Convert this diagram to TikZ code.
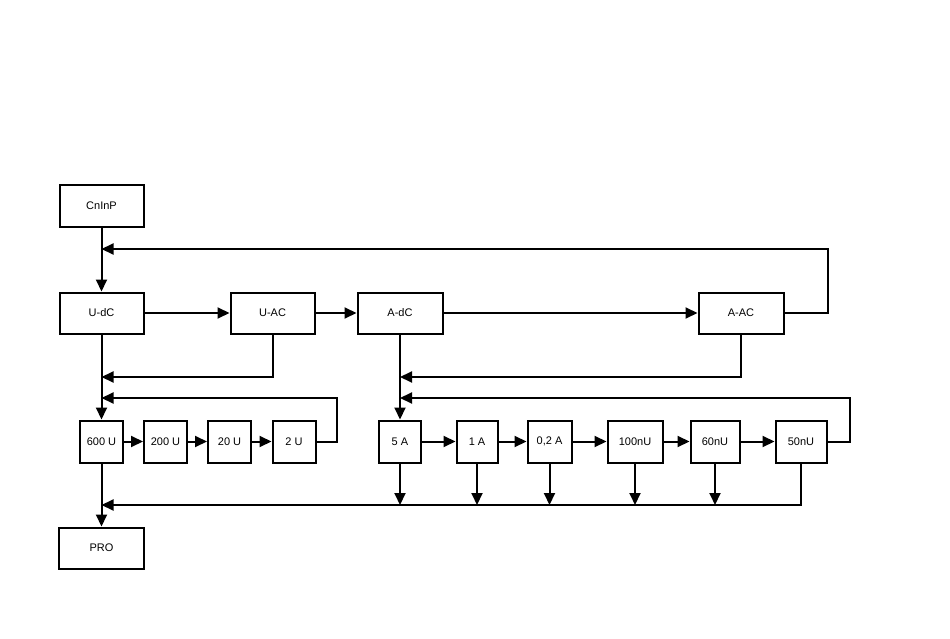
\documentclass[tikz,border=0pt]{standalone}
\usepackage{fontspec}
\setmainfont{Liberation Sans}
\usetikzlibrary{arrows.meta}
\begin{document}
\begin{tikzpicture}[x=1pt,y=-1pt, line width=2pt,
  box/.style={draw, line width=2pt, inner sep=0pt, font=\fontsize{11}{13}\selectfont, minimum height=41pt},
  arr/.style={-{Triangle[length=12pt,width=11pt]}}]
\useasboundingbox (0,0) rectangle (950,639);
% top row
\node[box, minimum width=84pt] (cninp) at (101.5,206) {CnInP};
\node[box, minimum width=84pt] (udc) at (101.5,313) {U-dC};
\node[box, minimum width=84pt] (uac) at (272.5,313) {U-AC};
\node[box, minimum width=85pt] (adc) at (400,313) {A-dC};
\node[box, minimum width=85pt] (aac) at (741,313) {A-AC};
% voltage ranges
\node[box, minimum width=43pt, minimum height=42pt] (v600) at (101.5,441.5) {600 U};
\node[box, minimum width=43pt, minimum height=42pt] (v200) at (165.5,441.5) {200 U};
\node[box, minimum width=43pt, minimum height=42pt] (v20) at (229.5,441.5) {20 U};
\node[box, minimum width=43pt, minimum height=42pt] (v2) at (294,441.5) {2 U};
% current ranges
\node[box, minimum width=42pt, minimum height=42pt] (a5) at (400,441.5) {5 A};
\node[box, minimum width=41pt, minimum height=42pt] (a1) at (477,441.5) {1 A};
\node[box, minimum width=44pt, minimum height=42pt] (a02) at (549.5,441.5) {0,2 A};
\node[box, minimum width=55pt, minimum height=42pt] (a100) at (635,441.5) {100nU};
\node[box, minimum width=49pt, minimum height=42pt] (a60) at (715,441.5) {60nU};
\node[box, minimum width=51pt, minimum height=42pt] (a50) at (801,441.5) {50nU};
% output
\node[box, minimum width=85pt] (pro) at (101.5,548) {PRO};
% junctions
\coordinate (j1) at (101.5,249);
\coordinate (j2) at (101.5,377);
\coordinate (j3) at (101.5,398);
\coordinate (j4) at (101.5,505);
\coordinate (j5) at (400,377);
\coordinate (j6) at (400,398);
% connectors
\draw[arr] (cninp) -- (udc);
\draw[arr] (udc) -- (uac);
\draw[arr] (uac) -- (adc);
\draw[arr] (adc) -- (aac);
\draw[arr] (aac.east) -- ++(43,0) |- (j1);
\draw[arr] (uac.south) |- (j2);
\draw[arr] (udc) -- (v600);
\draw[arr] (v600) -- (v200);
\draw[arr] (v200) -- (v20);
\draw[arr] (v20) -- (v2);
\draw[arr] (v2.east) -- ++(20,0) |- (j3);
\draw[arr] (v600) -- (pro);
\draw[arr] (adc) -- (a5);
\draw[arr] (aac.south) |- (j5);
\draw[arr] (a5) -- (a1);
\draw[arr] (a1) -- (a02);
\draw[arr] (a02) -- (a100);
\draw[arr] (a100) -- (a60);
\draw[arr] (a60) -- (a50);
\draw[arr] (a50.east) -- ++(22,0) |- (j6);
\draw[arr] (a50.south) |- (j4);
\draw[arr] (a5.south) -- (a5.south |- j4);
\draw[arr] (a1.south) -- (a1.south |- j4);
\draw[arr] (a02.south) -- (a02.south |- j4);
\draw[arr] (a100.south) -- (a100.south |- j4);
\draw[arr] (a60.south) -- (a60.south |- j4);
\end{tikzpicture}
\end{document}
